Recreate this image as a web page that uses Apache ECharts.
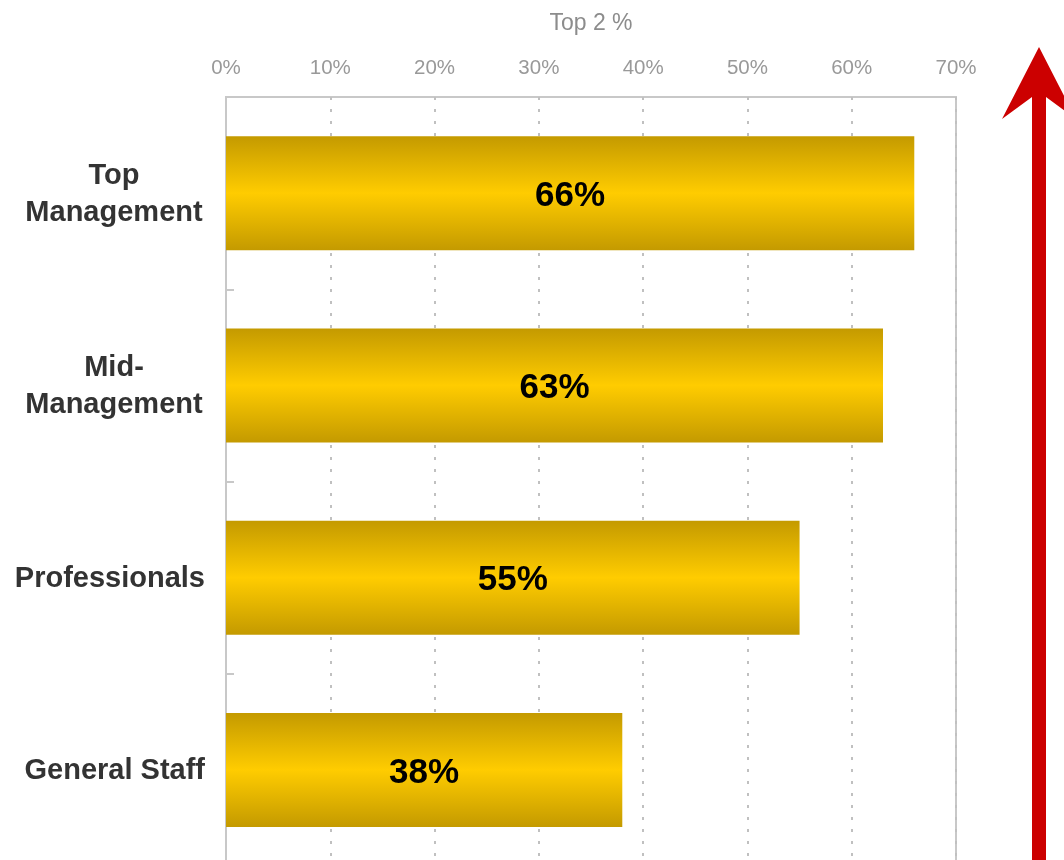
<!DOCTYPE html>
<html>
<head>
<meta charset="utf-8">
<title>Top 2 %</title>
<script src="https://cdn.jsdelivr.net/npm/echarts@6/dist/echarts.min.js"></script>
<style>
  html, body { margin: 0; padding: 0; background: #fff; }
  #chart { width: 1064px; height: 860px; }
</style>
</head>
<body>
<div id="chart"></div>
<script>
// 数据
var categories = ['Top\nManagement', 'Mid-\nManagement', 'Professionals', 'General Staff'];
var values = [66, 63, 55, 38];
var axisTicks = [0, 10, 20, 30, 40, 50, 60, 70];

var chartDom = document.getElementById('chart');
var myChart = echarts.init(chartDom);

var gold = new echarts.graphic.LinearGradient(0, 0, 0, 1, [
  { offset: 0, color: '#c49a00' },
  { offset: 0.5, color: '#ffcc00' },
  { offset: 1, color: '#c49a00' }
]);

var option = {
  animation: false,
  textStyle: { fontFamily: 'Liberation Sans, Arial, sans-serif' },
  grid: {
    show: true,
    left: 226,
    top: 97,
    width: 730,
    height: 769,  // 底部超出画布
    outerBoundsMode: 'none',
    borderColor: '#c8c8c8',
    borderWidth: 2,
    containLabel: false
  },
  xAxis: {
    type: 'value',
    position: 'top',
    min: axisTicks[0],
    max: axisTicks[axisTicks.length - 1],
    interval: 10,
    name: 'Top 2 %',
    nameLocation: 'middle',
    nameGap: 62,
    nameTextStyle: { color: '#8c8c8c', fontSize: 23 },
    axisLine: { show: false },
    axisTick: { show: false },
    axisLabel: {
      color: '#999',
      fontSize: 20.5,
      margin: 18,
      formatter: '{value}%'
    },
    splitLine: {
      show: true,
      lineStyle: { type: [3, 9], color: '#c0c0c0', width: 2 }
    }
  },
  yAxis: {
    type: 'category',
    inverse: true,
    data: categories,
    axisLine: { show: true, lineStyle: { color: '#c8c8c8', width: 2 } },
    axisTick: { show: true, inside: true, length: 8, lineStyle: { color: '#c8c8c8', width: 2 } },
    axisLabel: {
      margin: 21,
      align: 'right',
      color: '#333',
      fontSize: 29,
      fontWeight: 'bold',
      lineHeight: 37,
      padding: [3, 0, 0, 0],
      formatter: function (v) {
        if (v.indexOf('\n') < 0) return v;
        return v.split('\n').map(function (s) { return '{c|' + s + '}'; }).join('\n');
      },
      rich: {
        c: { width: 182, align: 'center', fontSize: 29, fontWeight: 'bold', color: '#333', lineHeight: 37 }
      }
    },
    splitLine: { show: false }
  },
  series: [
    {
      type: 'bar',
      data: values,
      barWidth: 114,
      itemStyle: { color: gold },
      label: {
        show: true,
        position: 'inside',
        offset: [0, 3],
        formatter: '{c}%',
        color: '#000',
        fontSize: 35,
        fontWeight: 'bold'
      }
    }
  ],
  graphic: {
    elements: [
      {
        // 红色箭头
        type: 'polygon',
        shape: {
          points: [[1039, 47], [1076, 119], [1046, 97], [1046, 880], [1032, 880], [1032, 97], [1002, 119]]
        },
        style: { fill: '#cc0000' },
        z: 10
      }
    ]
  }
};

myChart.setOption(option);
window.addEventListener('resize', function () {
  myChart.resize();
});
</script>
</body>
</html>
